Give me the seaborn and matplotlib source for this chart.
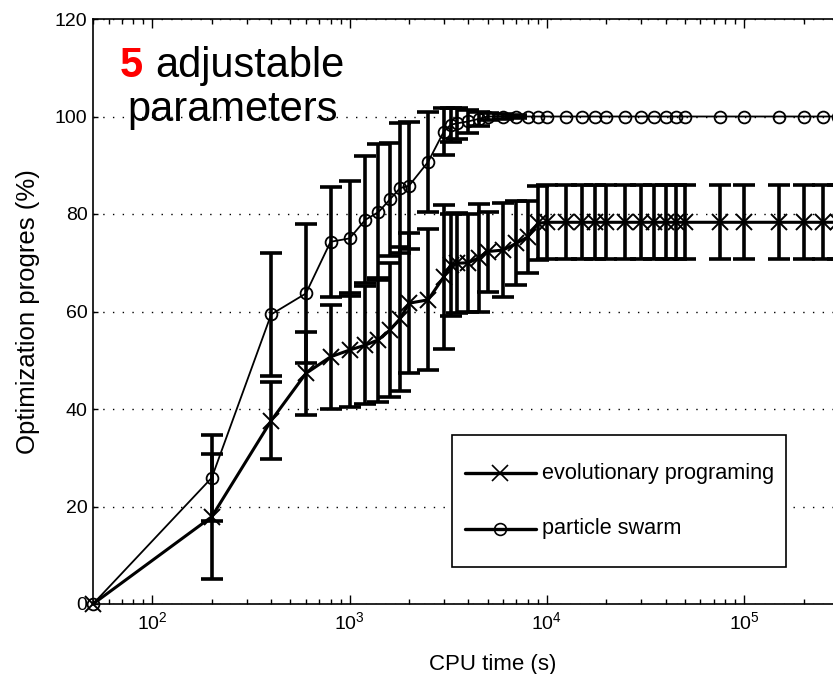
import numpy as np
import matplotlib
matplotlib.use("Agg")
import matplotlib.pyplot as plt
from matplotlib.lines import Line2D
from matplotlib.patches import Rectangle
from matplotlib.ticker import FixedLocator, LogLocator, NullFormatter, LogFormatterSciNotation
import seaborn as sns

# CPU time at which progress was sampled (s)
cpu_time = [50, 200, 400, 600, 800, 1000, 1200, 1400, 1600, 1800, 2000, 2500, 3000,
            3250, 3500, 4000, 4500, 5000, 6000, 7000, 8000, 9000, 10000, 12500, 15000,
            17500, 20000, 25000, 30000, 35000, 40000, 45000, 50000, 75000, 100000,
            150000, 200000, 250000, 300000]

# evolutionary programing: mean progress (%) and error half-width
ep_mean = [0, 17.9, 37.6, 47.3, 50.7, 52.1, 53.1, 54.2, 56.2, 58.5, 61.7, 62.4, 67.1,
           69.5, 69.9, 70.0, 71.0, 72.3, 72.6, 74.0, 75.3, 78.1, 78.3, 78.3, 78.3,
           78.3, 78.3, 78.3, 78.3, 78.3, 78.3, 78.3, 78.3, 78.3, 78.3,
           78.3, 78.3, 78.3, 78.3]
ep_err = [0, 12.8, 7.9, 8.5, 10.6, 11.6, 12.1, 12.7, 13.7, 14.8, 14.4, 14.5, 14.7,
          10.5, 10.3, 10.0, 11.0, 8.2, 9.7, 8.6, 7.3, 7.6, 7.6, 7.6, 7.6,
          7.6, 7.6, 7.6, 7.6, 7.6, 7.6, 7.6, 7.6, 7.6, 7.6,
          7.6, 7.6, 7.6, 7.6]

# particle swarm: mean progress (%) and error half-width
ps_mean = [0, 25.9, 59.4, 63.7, 74.3, 75.0, 78.8, 80.4, 83.0, 85.3, 85.8, 90.7, 96.9,
           98.3, 98.6, 99.0, 99.5, 100, 100, 100, 100, 100, 100, 100, 100,
           100, 100, 100, 100, 100, 100, 100, 100, 100, 100,
           100, 100, 100, 100]
ps_err = [0, 8.8, 12.6, 14.2, 11.3, 11.8, 13.0, 14.0, 11.6, 13.3, 13.0, 10.3, 4.8,
          3.5, 3.2, 2.3, 1.5, 0.8, 0.5, 0.3, 0, 0, 0, 0, 0,
          0, 0, 0, 0, 0, 0, 0, 0, 0, 0,
          0, 0, 0, 0]

series_labels = ["evolutionary programing", "particle swarm"]
y_ticks = [0, 20, 40, 60, 80, 100, 120]
x_ticks = [1e2, 1e3, 1e4, 1e5]

sns.set_theme(style="ticks")
plt.rcParams["font.family"] = ["Liberation Sans", "DejaVu Sans"]
plt.rcParams["mathtext.default"] = "regular"
for key in ("text.color", "axes.labelcolor", "xtick.color", "ytick.color",
            "xtick.labelcolor", "ytick.labelcolor"):
    plt.rcParams[key] = "black"

W, H = 833, 674
fig = plt.figure(figsize=(W / 100, H / 100), dpi=100)
# the plot box runs past the right edge of the canvas
ax = fig.add_axes([93 / W, 70 / H, 800 / W, 585 / H])

x = np.array(cpu_time, dtype=float)

# error bars first, then the mean curves on top
for mean, err in ((ep_mean, ep_err), (ps_mean, ps_err)):
    mean = np.array(mean)
    err = np.array(err)
    keep = err > 0
    ax.errorbar(x[keep], mean[keep], yerr=err[keep], fmt="none", ecolor="black",
                elinewidth=2.6, capsize=8, capthick=2.6, zorder=3)

sns.lineplot(x=x, y=ep_mean, ax=ax, color="black", linewidth=2.2, marker="x",
             markersize=11, markeredgewidth=1.4, markeredgecolor="black",
             estimator=None, sort=False, zorder=4, clip_on=False)
sns.lineplot(x=x, y=ps_mean, ax=ax, color="black", linewidth=1.3, marker="o",
             markersize=8.5, markeredgewidth=1.3, markeredgecolor="black",
             markerfacecolor="none", estimator=None, sort=False, zorder=4,
             clip_on=False)
if ax.get_legend() is not None:
    ax.get_legend().remove()

ax.set_xscale("log")
ax.set_xlim(50, 5.68e5)
ax.set_ylim(0, 120)

ax.xaxis.set_major_locator(FixedLocator(x_ticks))
ax.xaxis.set_major_formatter(LogFormatterSciNotation())
ax.xaxis.set_minor_locator(LogLocator(base=10, subs=np.arange(2, 10)))
ax.xaxis.set_minor_formatter(NullFormatter())
ax.yaxis.set_major_locator(FixedLocator(y_ticks))
ax.set_yticklabels([str(t) for t in y_ticks])

ax.tick_params(axis="x", which="major", direction="in", top=True, length=6.5,
               width=1, labelsize=14, pad=5, colors="black")
ax.tick_params(axis="x", which="minor", direction="in", top=True, length=3.6,
               width=1)
ax.tick_params(axis="y", which="major", direction="in", left=True, right=False,
               length=3.6, width=1, labelsize=14, pad=4, colors="black")

for side in ("left", "bottom", "top", "right"):
    ax.spines[side].set_color("black")
    ax.spines[side].set_linewidth(1.2)

ax.yaxis.grid(True, color="black", linestyle=(0, (1, 6)), linewidth=1.0)
ax.xaxis.grid(False)
ax.set_axisbelow(True)

ax.set_xlabel("CPU time (s)", fontsize=16, color="black", labelpad=15)
ax.set_ylabel("Optimization progres (%)", fontsize=18.5, color="black", labelpad=11)


def fx(px):
    return px / W


def fy(py):
    return 1 - py / H


# legend box with a sample line + marker for each series
fig.add_artist(Rectangle((fx(451.7), fy(567.3)), (786 - 451.7) / W, (567.3 - 435) / H,
                         transform=fig.transFigure, facecolor="white",
                         edgecolor="black", linewidth=1.2, zorder=5))
legend_rows = [
    (473.0, dict(marker="x", markersize=11, markeredgewidth=1.2,
                 markerfacecolor="black")),
    (528.5, dict(marker="o", markersize=8.5, markeredgewidth=1.2,
                 markerfacecolor="none")),
]
for (row_y, mstyle), label in zip(legend_rows, series_labels):
    fig.add_artist(Line2D([fx(465), fx(536)], [fy(row_y), fy(row_y)],
                          transform=fig.transFigure, color="black",
                          linewidth=2.4, zorder=6))
    fig.add_artist(Line2D([fx(500)], [fy(row_y)], transform=fig.transFigure,
                          color="black", markeredgecolor="black", linestyle="none",
                          zorder=7, **mstyle))
    fig.text(fx(541.7), fy(row_y + 5.6), label, fontsize=15.6, color="black",
             ha="left", va="baseline", zorder=7)

fig.text(fx(120), fy(77), "5", color="red", fontsize=30, fontweight="bold",
         ha="left", va="baseline")
fig.text(fx(155), fy(77), "adjustable", color="black", fontsize=30,
         ha="left", va="baseline")
fig.text(fx(127), fy(121), "parameters", color="black", fontsize=30,
         ha="left", va="baseline")

fig.savefig("out.png", dpi=100)
